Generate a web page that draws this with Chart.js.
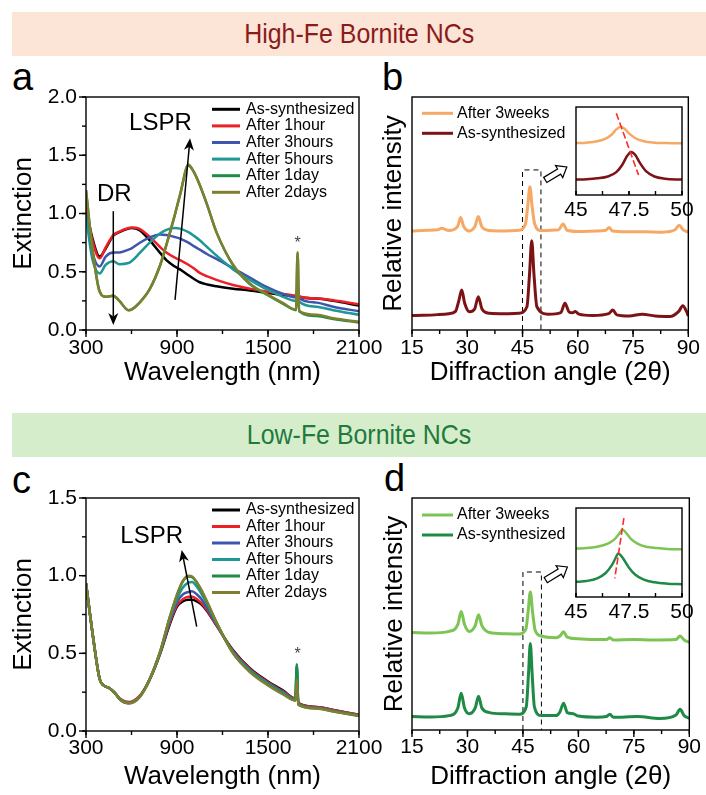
<!DOCTYPE html>
<html>
<head>
<meta charset="utf-8">
<script src="https://cdn.jsdelivr.net/npm/chart.js@4.4.1/dist/chart.umd.min.js"></script>
<style>
  body { margin: 0; width: 706px; height: 795px; background: #fff; position: relative; overflow: hidden;
         font-family: "Liberation Sans", Arial, sans-serif; }
  canvas { position: absolute; }
  .banner { position: absolute; left: 12px; width: 694px; height: 44px; line-height: 44px; text-align: center; }
  .banner span { display: inline-block; font-size: 28px; transform: scaleX(0.89); }
  .tag { position: absolute; font-size: 38px; line-height: 38px; color: #000; }
</style>
</head>
<body>
<div class="banner" style="top:12px;background:#fce4d6;color:#8b1a1a"><span>High-Fe Bornite NCs</span></div>
<div class="banner" style="top:413px;background:#d6edcb;color:#1f7a3c"><span>Low-Fe Bornite NCs</span></div>
<div class="tag" style="left:12px;top:58px">a</div>
<div class="tag" style="left:382px;top:58px">b</div>
<div class="tag" style="left:12px;top:461px">c</div>
<div class="tag" style="left:384px;top:459px">d</div>

<canvas id="specA" width="390" height="328" style="left:0;top:60px"></canvas>
<canvas id="xrdB" width="336" height="328" style="left:370px;top:60px"></canvas>
<canvas id="specC" width="390" height="332" style="left:0;top:460px"></canvas>
<canvas id="xrdD" width="336" height="332" style="left:370px;top:460px"></canvas>
<canvas id="zoomB" width="150" height="125" style="left:556px;top:100px"></canvas>
<canvas id="zoomD" width="150" height="125" style="left:556px;top:500px"></canvas>

<script>
// ---- extinction spectra, high-Fe (panel a) ----
const wlA = [300, 340, 390, 430, 480, 520, 580, 600, 650, 720, 790, 830, 880, 920, 975, 1010, 1050, 1100, 1160, 1270, 1380, 1490, 1600, 1685, 1695, 1705, 1820, 1930, 2100];
const aSynth = [1.05, 0.80, 0.63, 0.70, 0.81, 0.84, 0.87, 0.875, 0.86, 0.77, 0.66, 0.60, 0.55, 0.52, 0.47, 0.44, 0.41, 0.39, 0.375, 0.355, 0.34, 0.32, 0.30, 0.29, 0.30, 0.285, 0.27, 0.25, 0.21];
const a1h = [1.05, 0.78, 0.615, 0.71, 0.815, 0.845, 0.875, 0.88, 0.87, 0.80, 0.71, 0.665, 0.625, 0.60, 0.56, 0.53, 0.49, 0.46, 0.43, 0.386, 0.355, 0.33, 0.31, 0.295, 0.38, 0.29, 0.27, 0.255, 0.22];
const a3h = [1.0, 0.68, 0.545, 0.63, 0.665, 0.665, 0.69, 0.70, 0.745, 0.795, 0.82, 0.815, 0.80, 0.785, 0.75, 0.72, 0.69, 0.65, 0.61, 0.53, 0.45, 0.37, 0.31, 0.28, 0.32, 0.275, 0.235, 0.20, 0.16];
const a5h = [0.98, 0.62, 0.486, 0.56, 0.59, 0.565, 0.575, 0.59, 0.655, 0.75, 0.83, 0.86, 0.875, 0.87, 0.84, 0.81, 0.77, 0.71, 0.64, 0.52, 0.43, 0.35, 0.285, 0.25, 0.30, 0.245, 0.20, 0.17, 0.13];
const a1d = [1.2, 0.72, 0.33, 0.285, 0.295, 0.25, 0.17, 0.175, 0.23, 0.35, 0.56, 0.73, 0.96, 1.16, 1.41, 1.36, 1.245, 1.07, 0.84, 0.555, 0.395, 0.305, 0.225, 0.17, 0.66, 0.16, 0.12, 0.095, 0.065];
const a2d = [1.2, 0.72, 0.33, 0.285, 0.295, 0.25, 0.17, 0.175, 0.23, 0.35, 0.56, 0.73, 0.96, 1.16, 1.42, 1.36, 1.245, 1.07, 0.84, 0.56, 0.40, 0.31, 0.23, 0.175, 0.67, 0.165, 0.13, 0.10, 0.07];

// ---- extinction spectra, low-Fe (panel c) ----
const wlC = [300, 350, 390, 415, 455, 490, 525, 580, 655, 720, 790, 850, 900, 940, 975, 1000, 1030, 1060, 1100, 1160, 1270, 1380, 1490, 1600, 1680, 1690, 1700, 1820, 1930, 2100];
const cSynth = [0.95, 0.58, 0.335, 0.295, 0.275, 0.245, 0.205, 0.182, 0.225, 0.33, 0.50, 0.68, 0.80, 0.835, 0.845, 0.845, 0.835, 0.815, 0.77, 0.68, 0.52, 0.405, 0.325, 0.26, 0.21, 0.27, 0.18, 0.155, 0.135, 0.105];
const c1h = [0.95, 0.58, 0.335, 0.295, 0.275, 0.245, 0.207, 0.186, 0.228, 0.335, 0.505, 0.69, 0.81, 0.85, 0.865, 0.865, 0.85, 0.825, 0.775, 0.68, 0.515, 0.40, 0.32, 0.255, 0.21, 0.30, 0.18, 0.155, 0.135, 0.105];
const c3h = [0.95, 0.58, 0.335, 0.295, 0.275, 0.245, 0.203, 0.18, 0.222, 0.333, 0.51, 0.70, 0.83, 0.88, 0.895, 0.90, 0.88, 0.85, 0.79, 0.685, 0.51, 0.395, 0.315, 0.25, 0.205, 0.42, 0.175, 0.15, 0.13, 0.10];
const c5h = [0.95, 0.58, 0.335, 0.295, 0.275, 0.245, 0.203, 0.18, 0.222, 0.333, 0.51, 0.715, 0.85, 0.925, 0.955, 0.96, 0.93, 0.885, 0.815, 0.695, 0.505, 0.39, 0.31, 0.245, 0.20, 0.40, 0.172, 0.148, 0.128, 0.10];
const c1d = [0.95, 0.58, 0.335, 0.295, 0.275, 0.245, 0.202, 0.178, 0.22, 0.333, 0.515, 0.725, 0.875, 0.965, 0.995, 0.99, 0.955, 0.905, 0.825, 0.70, 0.50, 0.385, 0.305, 0.24, 0.197, 0.43, 0.17, 0.147, 0.127, 0.098];
const c2d = [0.95, 0.58, 0.335, 0.295, 0.275, 0.245, 0.202, 0.178, 0.22, 0.333, 0.515, 0.725, 0.88, 0.97, 1.0, 0.995, 0.96, 0.91, 0.83, 0.70, 0.50, 0.38, 0.30, 0.235, 0.195, 0.33, 0.168, 0.145, 0.125, 0.097];

const specLabels = ['As-synthesized', 'After 1hour', 'After 3hours', 'After 5hours', 'After 1day', 'After 2days'];
const specColors = ['#000000', '#ee2026', '#3f55ad', '#1f9795', '#1d8c45', '#7e8030'];

// ---- XRD patterns, high-Fe (panel b) ----
const ttB3w = [15, 19, 22, 23, 25, 27.4, 28.2, 29.0, 30.5, 32.1, 33.0, 33.9, 36, 40, 44, 45.8, 46.4, 47.0, 47.6, 48.3, 50, 54.8, 56.0, 57.1, 60, 65, 67.6, 68.5, 69.4, 73, 78, 83, 86.4, 87.5, 88.6, 90];
const iB3w = [0.425, 0.428, 0.43, 0.437, 0.427, 0.445, 0.483, 0.445, 0.425, 0.445, 0.487, 0.445, 0.427, 0.425, 0.428, 0.455, 0.53, 0.615, 0.53, 0.455, 0.427, 0.43, 0.455, 0.428, 0.423, 0.425, 0.428, 0.44, 0.425, 0.422, 0.422, 0.42, 0.43, 0.45, 0.43, 0.42];
const ttB0 = [15, 18, 22, 25, 26.8, 27.7, 28.5, 29.3, 30.6, 32.0, 33.0, 34.0, 36, 40, 44, 46.2, 46.9, 47.5, 48.1, 48.9, 52, 55.4, 56.5, 57.6, 58.5, 59.3, 60.3, 64, 68.4, 69.5, 70.6, 74, 77.5, 81, 85, 87.4, 88.5, 89.5, 90];
const iB0 = [0.062, 0.063, 0.066, 0.07, 0.08, 0.125, 0.172, 0.115, 0.078, 0.09, 0.143, 0.09, 0.072, 0.07, 0.072, 0.1, 0.24, 0.383, 0.24, 0.1, 0.068, 0.075, 0.115, 0.078, 0.074, 0.079, 0.068, 0.062, 0.07, 0.086, 0.065, 0.06, 0.068, 0.06, 0.058, 0.08, 0.104, 0.08, 0.06];

// ---- XRD patterns, low-Fe (panel d) ----
const ttD3w = [15, 20, 25, 27.4, 28.3, 29.2, 30.5, 32.1, 33.0, 33.9, 36, 40, 44, 45.8, 46.4, 47.0, 47.6, 48.3, 50, 54, 55.0, 56.0, 57.0, 60, 65, 67.6, 68.5, 69.4, 75, 80, 86.4, 87.5, 88.6, 90];
const iD3w = [0.42, 0.418, 0.425, 0.455, 0.511, 0.455, 0.425, 0.45, 0.497, 0.45, 0.42, 0.415, 0.414, 0.435, 0.51, 0.595, 0.51, 0.43, 0.405, 0.398, 0.405, 0.423, 0.40, 0.393, 0.39, 0.39, 0.398, 0.388, 0.39, 0.388, 0.39, 0.405, 0.388, 0.378];
const ttD0 = [15, 20, 25, 27.4, 28.3, 29.2, 30.5, 32.1, 33.0, 33.9, 36, 40, 44, 45.9, 46.5, 47.0, 47.5, 48.1, 50, 54, 55.0, 56.0, 57.0, 58.6, 60, 65, 67.6, 68.5, 69.4, 76, 82, 86.4, 87.5, 88.6, 90];
const iD0 = [0.058, 0.056, 0.062, 0.095, 0.158, 0.095, 0.07, 0.095, 0.146, 0.095, 0.075, 0.07, 0.068, 0.1, 0.24, 0.373, 0.24, 0.1, 0.062, 0.062, 0.078, 0.115, 0.075, 0.07, 0.06, 0.055, 0.058, 0.068, 0.055, 0.058, 0.05, 0.065, 0.089, 0.062, 0.05];

// ---- zoomed (45-50 deg) peak views ----
const zxB3w = [45, 45.5, 46, 46.4, 46.7, 46.9, 47.1, 47.3, 47.5, 47.8, 48.2, 48.7, 49.2, 50];
const ziB3w = [0.59, 0.595, 0.61, 0.64, 0.69, 0.745, 0.776, 0.75, 0.70, 0.645, 0.61, 0.595, 0.59, 0.587];
const zxB0 = [45, 45.5, 46, 46.5, 46.9, 47.2, 47.4, 47.6, 47.8, 48.0, 48.3, 48.7, 49.2, 50];
const ziB0 = [0.175, 0.18, 0.19, 0.21, 0.26, 0.35, 0.44, 0.49, 0.455, 0.37, 0.27, 0.21, 0.185, 0.175];
const zxD3w = [45, 45.5, 46, 46.5, 46.8, 47.0, 47.2, 47.4, 47.6, 47.9, 48.3, 48.8, 49.3, 50];
const ziD3w = [0.545, 0.55, 0.565, 0.60, 0.645, 0.70, 0.755, 0.71, 0.65, 0.60, 0.565, 0.55, 0.54, 0.536];
const zxD0 = [45, 45.5, 46, 46.4, 46.7, 46.85, 47.0, 47.2, 47.5, 47.8, 48.2, 48.7, 49.3, 50];
const ziD0 = [0.17, 0.18, 0.21, 0.27, 0.36, 0.43, 0.49, 0.44, 0.33, 0.25, 0.195, 0.165, 0.15, 0.143];
// peak-shift guides
const shiftB = [[46.9, 0.93], [47.95, 0.227]];
const shiftD = [[47.26, 0.887], [46.83, 0.21]];

Chart.defaults.font.family = "'Liberation Sans', Arial, sans-serif";
Chart.defaults.color = '#000';
Chart.defaults.animation = false;

const pts = (xs, ys) => xs.map((x, i) => ({x: x, y: ys[i]}));

function curve(label, xs, ys, color, order, width) {
  return {label: label, data: pts(xs, ys), borderColor: color, borderWidth: width || 2.5, pointRadius: 0,
          cubicInterpolationMode: 'monotone', borderJoinStyle: 'round', order: order};
}

// frame round the plot area plus outward/inward tick marks (major + half-step minor)
const axisBox = {
  id: 'axisBox',
  beforeDatasetsDraw(chart, args, o) {
    if (!o.fill) return;
    const a = chart.chartArea;
    chart.ctx.save();
    chart.ctx.fillStyle = '#fff';
    chart.ctx.fillRect(a.left, a.top, a.right - a.left, a.bottom - a.top);
    chart.ctx.restore();
  },
  afterDatasetsDraw(chart, args, o) {
    const {ctx, chartArea: a, scales} = chart;
    const dir = o.inward ? -1 : 1;
    ctx.save();
    ctx.strokeStyle = '#000';
    ctx.lineWidth = 1.4;
    ctx.strokeRect(a.left, a.top, a.right - a.left, a.bottom - a.top);
    const mark = (scale, step, len, horiz) => {
      for (let v = scale.min; v <= scale.max + step / 1000; v += step) {
        const p = scale.getPixelForValue(v);
        ctx.beginPath();
        if (horiz) { ctx.moveTo(p, a.bottom); ctx.lineTo(p, a.bottom + dir * len); }
        else { ctx.moveTo(a.left, p); ctx.lineTo(a.left - dir * len, p); }
        ctx.stroke();
      }
    };
    if (o.xStep) { mark(scales.x, o.xStep / 2, o.minor, true); mark(scales.x, o.xStep, o.major, true); }
    if (o.yStep) { mark(scales.y, o.yStep / 2, o.minor, false); mark(scales.y, o.yStep, o.major, false); }
    ctx.restore();
  }
};

// arrows and text notes placed in data coordinates
const notes = {
  id: 'notes',
  afterDatasetsDraw(chart, args, o) {
    const {ctx, scales: {x, y}} = chart;
    const P = pt => [x.getPixelForValue(pt[0]), y.getPixelForValue(pt[1])];
    ctx.save();
    (o.arrows || []).forEach(ar => {
      const [x0, y0] = P(ar.from), [x1, y1] = P(ar.to);
      const t = Math.atan2(y1 - y0, x1 - x0), c = Math.cos(t), s = Math.sin(t);
      const hl = 12, hw = 5;
      ctx.strokeStyle = '#000';
      ctx.fillStyle = '#000';
      ctx.lineWidth = 1.5;
      ctx.beginPath();
      ctx.moveTo(x0, y0);
      ctx.lineTo(x1 - hl * 0.7 * c, y1 - hl * 0.7 * s);
      ctx.stroke();
      ctx.beginPath();
      ctx.moveTo(x1, y1);
      ctx.lineTo(x1 - hl * c + hw * s, y1 - hl * s - hw * c);
      ctx.lineTo(x1 - hl * 0.7 * c, y1 - hl * 0.7 * s);
      ctx.lineTo(x1 - hl * c - hw * s, y1 - hl * s + hw * c);
      ctx.closePath();
      ctx.fill();
    });
    (o.hollow || []).forEach(ar => {
      const [x0, y0] = P(ar.from), [x1, y1] = P(ar.to);
      const t = Math.atan2(y1 - y0, x1 - x0), c = Math.cos(t), s = Math.sin(t);
      const L = Math.hypot(x1 - x0, y1 - y0), hl = 9, sw = 3, hw = 7;
      const at = (d, w) => [x0 + d * c - w * s, y0 + d * s + w * c];
      const poly = [at(0, -sw), at(L - hl, -sw), at(L - hl, -hw), at(L, 0), at(L - hl, hw), at(L - hl, sw), at(0, sw)];
      ctx.beginPath();
      poly.forEach((p, i) => i ? ctx.lineTo(p[0], p[1]) : ctx.moveTo(p[0], p[1]));
      ctx.closePath();
      ctx.fillStyle = '#fff';
      ctx.fill();
      ctx.strokeStyle = '#000';
      ctx.lineWidth = 1.2;
      ctx.stroke();
    });
    (o.texts || []).forEach(tx => {
      const [px, py] = P(tx.at);
      ctx.font = tx.font;
      ctx.fillStyle = tx.color || '#000';
      ctx.textAlign = 'center';
      ctx.textBaseline = 'middle';
      ctx.fillText(tx.text, px, py);
    });
    ctx.restore();
  }
};

// line-sample legend at a fixed spot inside the plot
const keyBox = {
  id: 'keyBox',
  afterDraw(chart, args, o) {
    if (!o.left) return;
    const ctx = chart.ctx;
    ctx.save();
    ctx.font = '16px "Liberation Sans", Arial, sans-serif';
    ctx.textBaseline = 'middle';
    ctx.fillStyle = '#000';
    let row = 0;
    chart.data.datasets.forEach(ds => {
      if (!ds.label) return;
      const yy = o.top + row * o.gap;
      ctx.strokeStyle = ds.borderColor;
      ctx.lineWidth = 3;
      ctx.beginPath();
      ctx.moveTo(o.left, yy);
      ctx.lineTo(o.left + o.len, yy);
      ctx.stroke();
      ctx.fillText(ds.label, o.left + o.len + o.space, yy);
      row++;
    });
    ctx.restore();
  }
};

function linearAxis(min, max, step, o) {
  return {
    type: 'linear', min: min, max: max, display: o.display !== false,
    ticks: {display: o.labels !== false, stepSize: step, font: {size: 21}, padding: o.pad, maxRotation: 0, autoSkip: false,
            callback: o.fmt || (v => v)},
    grid: {display: false, drawTicks: false},
    border: {display: false},
    title: {display: !!o.title, text: o.title, font: {size: 26}, padding: o.titlePad || 0},
    afterFit: s => { if (o.w) s.width = o.w; if (o.h) s.height = o.h; }
  };
}

function panel(id, datasets, scales, pad, plug) {
  return new Chart(document.getElementById(id), {
    type: 'line',
    data: {datasets: datasets},
    options: {
      responsive: false,
      layout: {padding: pad},
      scales: scales,
      plugins: Object.assign({legend: {display: false}, tooltip: {enabled: false}}, plug)
    },
    plugins: [axisBox, notes, keyBox]
  });
}

const fmt1 = v => v.toFixed(1);

function specSets(xs, series) {
  const order = [5, 4, 3, 2, 1, 0];
  return series.map((ys, i) => curve(specLabels[i], xs, ys, specColors[i], order[i]));
}

// panel a
panel('specA', specSets(wlA, [aSynth, a1h, a3h, a5h, a1d, a2d]), {
  x: linearAxis(300, 2100, 600, {pad: 6, title: 'Wavelength (nm)', h: 58}),
  y: linearAxis(0, 2, 0.5, {pad: 9, title: 'Extinction', titlePad: {top: 8}, w: 86, fmt: fmt1})
}, {top: 37, right: 31}, {
  axisBox: {xStep: 600, yStep: 0.5, major: 7, minor: 4},
  keyBox: {left: 212, top: 49.3, gap: 16.6, len: 28, space: 6},
  notes: {
    arrows: [{from: [480, 1.02], to: [480, 0.043]}, {from: [887, 0.258], to: [986, 1.645]}],
    texts: [{at: [487, 1.16], text: 'DR', font: '24px "Liberation Sans", Arial'},
            {at: [791, 1.77], text: 'LSPR', font: '24px "Liberation Sans", Arial'},
            {at: [1696, 0.74], text: '*', font: '16px "Liberation Sans", Arial', color: '#444'}]
  }
});

// panel c
panel('specC', specSets(wlC, [cSynth, c1h, c3h, c5h, c1d, c2d]), {
  x: linearAxis(300, 2100, 600, {pad: 5, title: 'Wavelength (nm)', h: 61}),
  y: linearAxis(0, 1.5, 0.5, {pad: 9, title: 'Extinction', titlePad: {top: 8}, w: 86, fmt: fmt1})
}, {top: 38, right: 31}, {
  axisBox: {xStep: 600, yStep: 0.5, major: 7, minor: 4},
  keyBox: {left: 212, top: 50, gap: 16.5, len: 28, space: 6},
  notes: {
    arrows: [{from: [1030, 0.672], to: [931, 1.166]}],
    texts: [{at: [733, 1.253], text: 'LSPR', font: '24px "Liberation Sans", Arial'},
            {at: [1696, 0.49], text: '*', font: '16px "Liberation Sans", Arial', color: '#444'}]
  }
});

function boxSet(top) {
  return {data: pts([45, 45, 50, 50], [0, top, top, 0]), borderColor: '#000', borderWidth: 1, borderDash: [5, 4],
          pointRadius: 0, tension: 0, order: 9};
}

// panel b
panel('xrdB', [
  curve('After 3weeks', ttB3w, iB3w, '#f6a865', 1, 3),
  curve('As-synthesized', ttB0, iB0, '#7c1416', 0, 3),
  boxSet(0.687)
], {
  x: linearAxis(15, 90, 15, {pad: 6, title: 'Diffraction angle (2\u03b8)', h: 58}),
  y: linearAxis(0, 1, 1, {labels: false, title: 'Relative intensity', titlePad: {top: 8}, w: 42})
}, {top: 37, right: 12}, {
  axisBox: {xStep: 15, major: 7, minor: 4},
  keyBox: {left: 52, top: 53.3, gap: 20, len: 31, space: 4},
  notes: {hollow: [{from: [51.17, 0.644], to: [57.02, 0.70]}]}
});

// panel d
panel('xrdD', [
  curve('After 3weeks', ttD3w, iD3w, '#7cc453', 1, 3),
  curve('As-synthesized', ttD0, iD0, '#1d8a45', 0, 3),
  boxSet(0.681)
], {
  x: linearAxis(15, 90, 15, {pad: 5, title: 'Diffraction angle (2\u03b8)', h: 62}),
  y: linearAxis(0, 1, 1, {labels: false, title: 'Relative intensity', titlePad: {top: 9}, w: 42})
}, {top: 38, right: 12}, {
  axisBox: {xStep: 15, major: 7, minor: 4},
  keyBox: {left: 52, top: 55, gap: 20, len: 31, space: 4},
  notes: {hollow: [{from: [51.17, 0.646], to: [57.02, 0.703]}]}
});

function guide(p) {
  return {data: pts(p.map(q => q[0]), p.map(q => q[1])), borderColor: '#ff2a2a', borderWidth: 1.6,
          borderDash: [7, 3], pointRadius: 0, tension: 0, order: -1};
}

// zoomed peaks
panel('zoomB', [
  curve(null, zxB3w, ziB3w, '#f6a865', 1),
  curve(null, zxB0, ziB0, '#7c1416', 0),
  guide(shiftB)
], {
  x: linearAxis(45, 50, 2.5, {pad: 3, h: 30}),
  y: linearAxis(0, 1, 1, {display: false})
}, {top: 7, left: 20, right: 24}, {axisBox: {xStep: 2.5, major: 4, minor: 4, inward: true, fill: true}});

panel('zoomD', [
  curve(null, zxD3w, ziD3w, '#7cc453', 1),
  curve(null, zxD0, ziD0, '#1d8a45', 0),
  guide(shiftD)
], {
  x: linearAxis(45, 50, 2.5, {pad: 3, h: 28}),
  y: linearAxis(0, 1, 1, {display: false})
}, {top: 8, left: 20, right: 24}, {axisBox: {xStep: 2.5, major: 4, minor: 4, inward: true, fill: true}});
</script>
</body>
</html>
